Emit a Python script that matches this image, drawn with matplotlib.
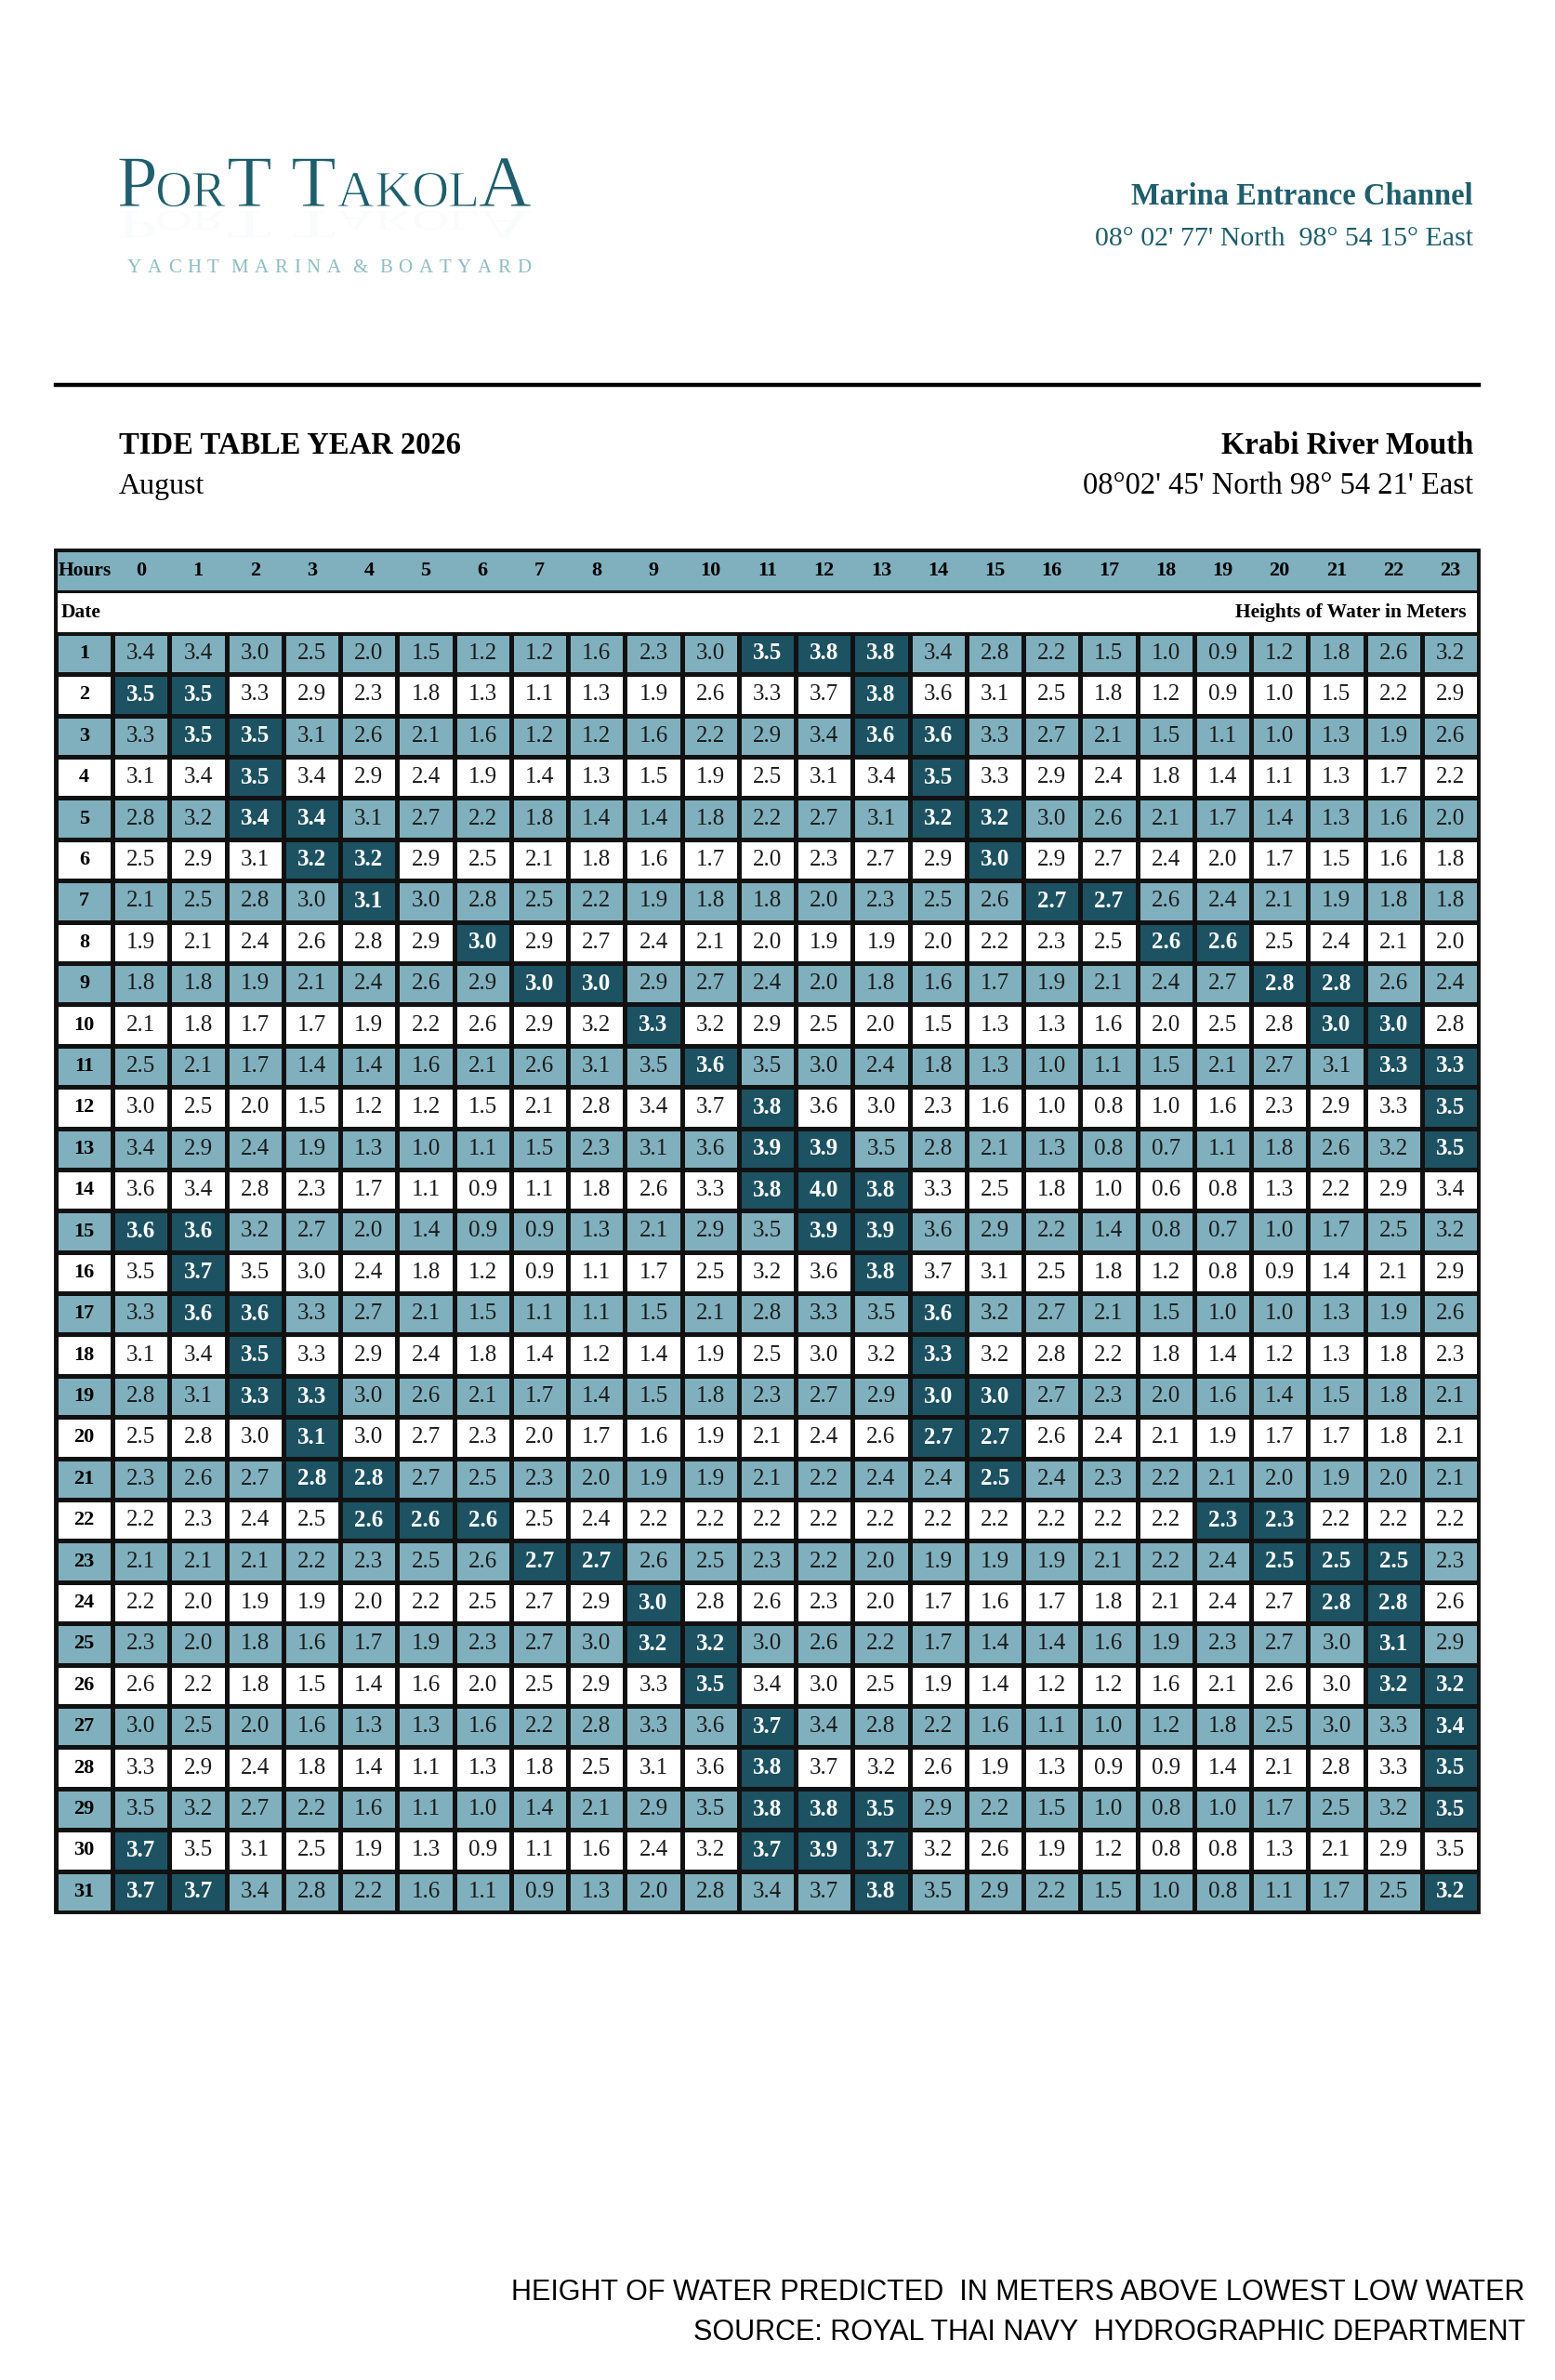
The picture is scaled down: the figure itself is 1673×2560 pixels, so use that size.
import numpy as np
import matplotlib
matplotlib.use("Agg")
import matplotlib.pyplot as plt
from matplotlib.colors import ListedColormap
from matplotlib.patches import Rectangle, PathPatch
from matplotlib.lines import Line2D
from matplotlib.textpath import TextPath
from matplotlib.font_manager import FontProperties
from matplotlib.transforms import Affine2D

# ---------------- data ----------------
hours = list(range(24))
days = list(range(1, 32))

heights = [
    [3.4, 3.4, 3.0, 2.5, 2.0, 1.5, 1.2, 1.2, 1.6, 2.3, 3.0, 3.5, 3.8, 3.8, 3.4, 2.8, 2.2, 1.5, 1.0, 0.9, 1.2, 1.8, 2.6, 3.2],
    [3.5, 3.5, 3.3, 2.9, 2.3, 1.8, 1.3, 1.1, 1.3, 1.9, 2.6, 3.3, 3.7, 3.8, 3.6, 3.1, 2.5, 1.8, 1.2, 0.9, 1.0, 1.5, 2.2, 2.9],
    [3.3, 3.5, 3.5, 3.1, 2.6, 2.1, 1.6, 1.2, 1.2, 1.6, 2.2, 2.9, 3.4, 3.6, 3.6, 3.3, 2.7, 2.1, 1.5, 1.1, 1.0, 1.3, 1.9, 2.6],
    [3.1, 3.4, 3.5, 3.4, 2.9, 2.4, 1.9, 1.4, 1.3, 1.5, 1.9, 2.5, 3.1, 3.4, 3.5, 3.3, 2.9, 2.4, 1.8, 1.4, 1.1, 1.3, 1.7, 2.2],
    [2.8, 3.2, 3.4, 3.4, 3.1, 2.7, 2.2, 1.8, 1.4, 1.4, 1.8, 2.2, 2.7, 3.1, 3.2, 3.2, 3.0, 2.6, 2.1, 1.7, 1.4, 1.3, 1.6, 2.0],
    [2.5, 2.9, 3.1, 3.2, 3.2, 2.9, 2.5, 2.1, 1.8, 1.6, 1.7, 2.0, 2.3, 2.7, 2.9, 3.0, 2.9, 2.7, 2.4, 2.0, 1.7, 1.5, 1.6, 1.8],
    [2.1, 2.5, 2.8, 3.0, 3.1, 3.0, 2.8, 2.5, 2.2, 1.9, 1.8, 1.8, 2.0, 2.3, 2.5, 2.6, 2.7, 2.7, 2.6, 2.4, 2.1, 1.9, 1.8, 1.8],
    [1.9, 2.1, 2.4, 2.6, 2.8, 2.9, 3.0, 2.9, 2.7, 2.4, 2.1, 2.0, 1.9, 1.9, 2.0, 2.2, 2.3, 2.5, 2.6, 2.6, 2.5, 2.4, 2.1, 2.0],
    [1.8, 1.8, 1.9, 2.1, 2.4, 2.6, 2.9, 3.0, 3.0, 2.9, 2.7, 2.4, 2.0, 1.8, 1.6, 1.7, 1.9, 2.1, 2.4, 2.7, 2.8, 2.8, 2.6, 2.4],
    [2.1, 1.8, 1.7, 1.7, 1.9, 2.2, 2.6, 2.9, 3.2, 3.3, 3.2, 2.9, 2.5, 2.0, 1.5, 1.3, 1.3, 1.6, 2.0, 2.5, 2.8, 3.0, 3.0, 2.8],
    [2.5, 2.1, 1.7, 1.4, 1.4, 1.6, 2.1, 2.6, 3.1, 3.5, 3.6, 3.5, 3.0, 2.4, 1.8, 1.3, 1.0, 1.1, 1.5, 2.1, 2.7, 3.1, 3.3, 3.3],
    [3.0, 2.5, 2.0, 1.5, 1.2, 1.2, 1.5, 2.1, 2.8, 3.4, 3.7, 3.8, 3.6, 3.0, 2.3, 1.6, 1.0, 0.8, 1.0, 1.6, 2.3, 2.9, 3.3, 3.5],
    [3.4, 2.9, 2.4, 1.9, 1.3, 1.0, 1.1, 1.5, 2.3, 3.1, 3.6, 3.9, 3.9, 3.5, 2.8, 2.1, 1.3, 0.8, 0.7, 1.1, 1.8, 2.6, 3.2, 3.5],
    [3.6, 3.4, 2.8, 2.3, 1.7, 1.1, 0.9, 1.1, 1.8, 2.6, 3.3, 3.8, 4.0, 3.8, 3.3, 2.5, 1.8, 1.0, 0.6, 0.8, 1.3, 2.2, 2.9, 3.4],
    [3.6, 3.6, 3.2, 2.7, 2.0, 1.4, 0.9, 0.9, 1.3, 2.1, 2.9, 3.5, 3.9, 3.9, 3.6, 2.9, 2.2, 1.4, 0.8, 0.7, 1.0, 1.7, 2.5, 3.2],
    [3.5, 3.7, 3.5, 3.0, 2.4, 1.8, 1.2, 0.9, 1.1, 1.7, 2.5, 3.2, 3.6, 3.8, 3.7, 3.1, 2.5, 1.8, 1.2, 0.8, 0.9, 1.4, 2.1, 2.9],
    [3.3, 3.6, 3.6, 3.3, 2.7, 2.1, 1.5, 1.1, 1.1, 1.5, 2.1, 2.8, 3.3, 3.5, 3.6, 3.2, 2.7, 2.1, 1.5, 1.0, 1.0, 1.3, 1.9, 2.6],
    [3.1, 3.4, 3.5, 3.3, 2.9, 2.4, 1.8, 1.4, 1.2, 1.4, 1.9, 2.5, 3.0, 3.2, 3.3, 3.2, 2.8, 2.2, 1.8, 1.4, 1.2, 1.3, 1.8, 2.3],
    [2.8, 3.1, 3.3, 3.3, 3.0, 2.6, 2.1, 1.7, 1.4, 1.5, 1.8, 2.3, 2.7, 2.9, 3.0, 3.0, 2.7, 2.3, 2.0, 1.6, 1.4, 1.5, 1.8, 2.1],
    [2.5, 2.8, 3.0, 3.1, 3.0, 2.7, 2.3, 2.0, 1.7, 1.6, 1.9, 2.1, 2.4, 2.6, 2.7, 2.7, 2.6, 2.4, 2.1, 1.9, 1.7, 1.7, 1.8, 2.1],
    [2.3, 2.6, 2.7, 2.8, 2.8, 2.7, 2.5, 2.3, 2.0, 1.9, 1.9, 2.1, 2.2, 2.4, 2.4, 2.5, 2.4, 2.3, 2.2, 2.1, 2.0, 1.9, 2.0, 2.1],
    [2.2, 2.3, 2.4, 2.5, 2.6, 2.6, 2.6, 2.5, 2.4, 2.2, 2.2, 2.2, 2.2, 2.2, 2.2, 2.2, 2.2, 2.2, 2.2, 2.3, 2.3, 2.2, 2.2, 2.2],
    [2.1, 2.1, 2.1, 2.2, 2.3, 2.5, 2.6, 2.7, 2.7, 2.6, 2.5, 2.3, 2.2, 2.0, 1.9, 1.9, 1.9, 2.1, 2.2, 2.4, 2.5, 2.5, 2.5, 2.3],
    [2.2, 2.0, 1.9, 1.9, 2.0, 2.2, 2.5, 2.7, 2.9, 3.0, 2.8, 2.6, 2.3, 2.0, 1.7, 1.6, 1.7, 1.8, 2.1, 2.4, 2.7, 2.8, 2.8, 2.6],
    [2.3, 2.0, 1.8, 1.6, 1.7, 1.9, 2.3, 2.7, 3.0, 3.2, 3.2, 3.0, 2.6, 2.2, 1.7, 1.4, 1.4, 1.6, 1.9, 2.3, 2.7, 3.0, 3.1, 2.9],
    [2.6, 2.2, 1.8, 1.5, 1.4, 1.6, 2.0, 2.5, 2.9, 3.3, 3.5, 3.4, 3.0, 2.5, 1.9, 1.4, 1.2, 1.2, 1.6, 2.1, 2.6, 3.0, 3.2, 3.2],
    [3.0, 2.5, 2.0, 1.6, 1.3, 1.3, 1.6, 2.2, 2.8, 3.3, 3.6, 3.7, 3.4, 2.8, 2.2, 1.6, 1.1, 1.0, 1.2, 1.8, 2.5, 3.0, 3.3, 3.4],
    [3.3, 2.9, 2.4, 1.8, 1.4, 1.1, 1.3, 1.8, 2.5, 3.1, 3.6, 3.8, 3.7, 3.2, 2.6, 1.9, 1.3, 0.9, 0.9, 1.4, 2.1, 2.8, 3.3, 3.5],
    [3.5, 3.2, 2.7, 2.2, 1.6, 1.1, 1.0, 1.4, 2.1, 2.9, 3.5, 3.8, 3.8, 3.5, 2.9, 2.2, 1.5, 1.0, 0.8, 1.0, 1.7, 2.5, 3.2, 3.5],
    [3.7, 3.5, 3.1, 2.5, 1.9, 1.3, 0.9, 1.1, 1.6, 2.4, 3.2, 3.7, 3.9, 3.7, 3.2, 2.6, 1.9, 1.2, 0.8, 0.8, 1.3, 2.1, 2.9, 3.5],
    [3.7, 3.7, 3.4, 2.8, 2.2, 1.6, 1.1, 0.9, 1.3, 2.0, 2.8, 3.4, 3.7, 3.8, 3.5, 2.9, 2.2, 1.5, 1.0, 0.8, 1.1, 1.7, 2.5, 3.2],
]

# hours flagged as high water (dark cells) for each day
high_water_hours = [
    [11, 12, 13], [0, 1, 13], [1, 2, 13, 14], [2, 14], [2, 3, 14, 15],
    [3, 4, 15], [4, 16, 17], [6, 18, 19], [7, 8, 20, 21], [9, 21, 22],
    [10, 22, 23], [11, 23], [11, 12, 23], [11, 12, 13], [0, 1, 12, 13],
    [1, 13], [1, 2, 14], [2, 14], [2, 3, 14, 15], [3, 14, 15],
    [3, 4, 15], [4, 5, 6, 19, 20], [7, 8, 20, 21, 22], [9, 21, 22], [9, 10, 22],
    [10, 22, 23], [11, 23], [11, 23], [11, 12, 13, 23], [0, 11, 12, 13],
    [0, 1, 13, 23],
]

title = "TIDE TABLE YEAR 2026"
month = "August"
station_top = "Marina Entrance Channel"
station_top_pos = "08° 02' 77' North  98° 54 15° East"
station = "Krabi River Mouth"
station_pos = "08°02' 45' North 98° 54 21' East"
tagline = "YACHT MARINA & BOATYARD"
footer1 = "HEIGHT OF WATER PREDICTED  IN METERS ABOVE LOWEST LOW WATER"
footer2 = "SOURCE: ROYAL THAI NAVY  HYDROGRAPHIC DEPARTMENT"

# ---------------- style ----------------
W, H = 1674, 2560
LIGHT = "#80b0bd"
DARK = "#1d5262"
TEAL = "#1f5e6c"
TAG = "#8dbcc2"
GRID = "#111111"
SERIF = ["Liberation Serif", "DejaVu Serif"]
SANS = ["Liberation Sans", "DejaVu Sans"]

plt.rcParams["font.family"] = SERIF
fig = plt.figure(figsize=(W / 100, H / 100), dpi=100)
fig.patch.set_facecolor("white")
renderer = fig.canvas.get_renderer()

# background axes in pixel units (y downwards) for decoration
bg = fig.add_axes([0, 0, 1, 1])
bg.set_xlim(0, W)
bg.set_ylim(H, 0)
bg.axis("off")


def fx(px):
    return px / W


def fy(py):
    return 1 - py / H


def run_text(pieces, x0, ybase, color, track, family=SERIF, weight="normal"):
    x = x0
    for s, size in pieces:
        for ch in s:
            if ch == " ":
                x += 0.28 * size * 100 / 72
                continue
            t = fig.text(fx(x), fy(ybase), ch, fontsize=size, family=family,
                         color=color, va="baseline", ha="left", weight=weight)
            bb = t.get_window_extent(renderer)
            x += bb.width + track
    return x


# ---------------- logo (with faint reflection) ----------------
logo_fp = FontProperties(family=SERIF)
BIG, SMALL = 79.0, 55.0  # pixel sizes
logo_pieces = [("P", BIG), ("OR", SMALL), ("T", BIG), (" ", BIG), ("T", BIG),
               ("AKOL", SMALL), ("A", BIG)]
x = 128.0
base = 222.0
for s, size in logo_pieces:
    for ch in s:
        if ch == " ":
            x += 0.26 * size
            continue
        tp = TextPath((0, 0), ch, size=size, prop=logo_fp)
        ext = tp.get_extents()
        dx = x - ext.x0
        bg.add_patch(PathPatch(tp, transform=Affine2D().scale(1, -1).translate(dx, base) + bg.transData,
                               facecolor=TEAL, edgecolor="white", lw=0.7))
        bg.add_patch(PathPatch(tp, transform=Affine2D().scale(1, 0.55).translate(dx, base + 5) + bg.transData,
                               facecolor=TEAL, edgecolor="none", alpha=0.02))
        x += ext.width + 3.0

run_text([(tagline, 15)], 137, 293, TAG, 6.7)

fig.text(fx(1585), fy(212), station_top, fontsize=23.5, weight="bold",
         color=TEAL, ha="right", va="center")
fig.text(fx(1585), fy(257), station_top_pos, fontsize=21.5,
         color=TEAL, ha="right", va="center")

fig.add_artist(Line2D([fx(60), fx(1591)], [fy(414), fy(414)], color="black", lw=3.2))

fig.text(fx(128), fy(479), title, fontsize=23.5, weight="bold",
         color="black", ha="left", va="center")
fig.text(fx(128), fy(523), month, fontsize=23, color="black",
         ha="left", va="center")
fig.text(fx(1585), fy(479), station, fontsize=23.5, weight="bold",
         color="black", ha="right", va="center")
fig.text(fx(1585), fy(523), station_pos, fontsize=23.5, color="black",
         ha="right", va="center")

# ---------------- table ----------------
vals = np.array(heights)
nd, nh = vals.shape
hi = np.zeros_like(vals, dtype=bool)
for d, hs in enumerate(high_water_hours):
    hi[d, hs] = True

ax = fig.add_axes([fx(60), fy(2057), fx(1591) - fx(60), (2057 - 592) / H])
ax.set_xlim(0, nh + 1)
ax.set_ylim(nd + 2, 0)
ax.axis("off")

row_odd = (np.array(days) % 2 == 1)
state = np.where(hi, 2, np.where(row_odd[:, None], 1, 0))
cmap = ListedColormap(["white", LIGHT, DARK])
lw = 2.2
ax.pcolormesh(np.arange(1, nh + 2), np.arange(2, nd + 3), state, cmap=cmap,
              vmin=-0.5, vmax=2.5, edgecolors=GRID, linewidth=lw)
ax.pcolormesh(np.array([0, 1]), np.arange(2, nd + 3),
              row_odd.astype(int)[:, None], cmap=cmap, vmin=-0.5, vmax=2.5,
              edgecolors=GRID, linewidth=lw)
ax.add_patch(Rectangle((0, 0), nh + 1, 1, facecolor=LIGHT, edgecolor=GRID, lw=lw))
ax.add_patch(Rectangle((0, 1), nh + 1, 1, facecolor="white", edgecolor=GRID, lw=lw))
ax.add_patch(Rectangle((0, 0), nh + 1, nd + 2, facecolor="none", edgecolor=GRID,
                       lw=2.8, clip_on=False))

hdr_fs = 15.5
ax.text(0.05, 0.5, "Hours", fontsize=hdr_fs, weight="bold", ha="left", va="center")
for j, h in enumerate(hours):
    ax.text(j + 1.5, 0.5, str(h), fontsize=hdr_fs + 0.5, weight="bold",
            ha="center", va="center")
ax.text(0.1, 1.5, "Date", fontsize=hdr_fs, weight="bold", ha="left", va="center")
ax.text(nh + 0.78, 1.5, "Heights of Water in Meters", fontsize=hdr_fs,
        weight="bold", ha="right", va="center")

for i, d in enumerate(days):
    ax.text(0.5, i + 2.5, str(d), fontsize=hdr_fs + 0.5, weight="bold",
            ha="center", va="center")
    for j in range(nh):
        if hi[i, j]:
            ax.text(j + 1.5, i + 2.5, f"{vals[i, j]:.1f}", fontsize=18,
                    weight="bold", color="white", ha="center", va="center")
        else:
            ax.text(j + 1.5, i + 2.5, f"{vals[i, j]:.1f}", fontsize=18,
                    color="#1a1a1a", ha="center", va="center")

# ---------------- footer ----------------
fig.text(fx(1641), fy(2466), footer1, fontsize=22, family=SANS,
         color="black", ha="right", va="center")
fig.text(fx(1641), fy(2509), footer2, fontsize=22, family=SANS,
         color="black", ha="right", va="center")

fig.savefig("out.png", dpi=100, facecolor="white")
